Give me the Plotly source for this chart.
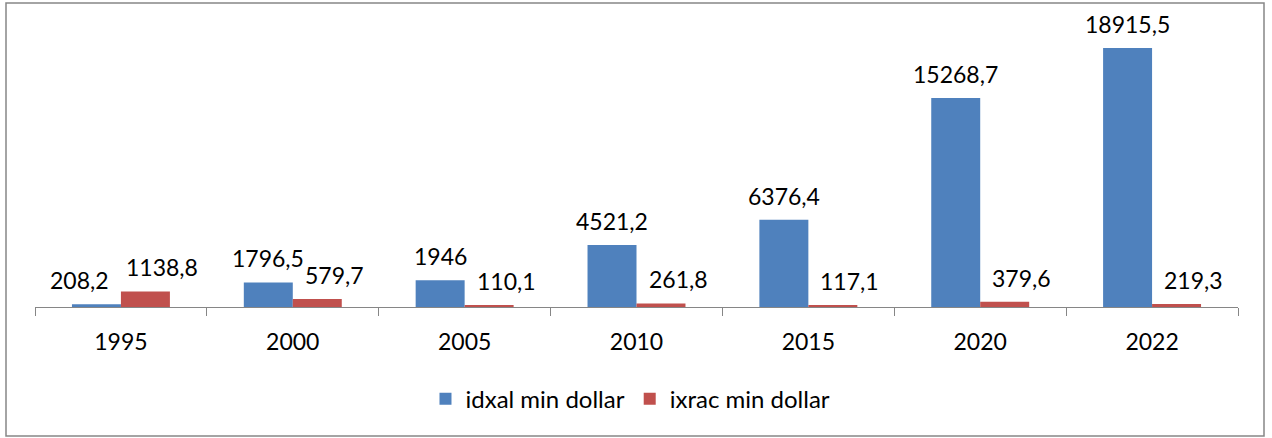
import plotly.graph_objects as go

years = ["1995", "2000", "2005", "2010", "2015", "2020", "2022"]
idxal = [208.2, 1796.5, 1946, 4521.2, 6376.4, 15268.7, 18915.5]
ixrac = [1138.8, 579.7, 110.1, 261.8, 117.1, 379.6, 219.3]
names = ["idxal min dollar", "ixrac min dollar"]
colors = ["#4F81BD", "#C0504D"]

FONT = "Lato"

def fmt(v):
    return f"{v:g}".replace(".", ",")

fig = go.Figure()
for vals, nm, col in zip([idxal, ixrac], names, colors):
    fig.add_trace(go.Bar(x=years, y=vals, name=nm, marker=dict(color=col, line=dict(width=0))))

annotations = []
for s, (vals, shift) in enumerate(zip([idxal, ixrac], [-24.5, 24.5 + 17])):
    for i, v in enumerate(vals):
        dx = shift
        if s == 0 and i == 0:
            dx -= 17  # nudge left to avoid neighbouring label
        annotations.append(dict(x=i, y=v, text=fmt(v), showarrow=False, xanchor="center",
                                yanchor="bottom", xshift=dx, yshift=8,
                                font=dict(family=FONT, size=23, color="black")))

L, R, T, B = 35, 34, 10, 131
W, H = 1272, 438
pw, ph = W - L - R, H - T - B

fig.update_layout(
    width=W, height=H,
    margin=dict(l=L, r=R, t=T, b=B),
    paper_bgcolor="white", plot_bgcolor="white",
    barmode="group", bargap=0.43, bargroupgap=0,
    font=dict(family=FONT, size=23, color="black"),
    annotations=annotations,
    showlegend=True,
    legend=dict(orientation="h", x=0.495, xanchor="center", y=-0.31, yanchor="middle",
                font=dict(family=FONT, size=24, color="black"), itemwidth=30,
                traceorder="normal"),
    xaxis=dict(type="category", categoryorder="array", categoryarray=years,
               range=[-0.5, len(years) - 0.5], autorange=False,
               showline=True, linecolor="#868686", linewidth=1,
               ticks="outside", tickson="boundaries", ticklen=8, tickcolor="#868686",
               ticklabelstandoff=14,
               tickangle=0, showgrid=False, tickfont=dict(family=FONT, size=23, color="black")),
    yaxis=dict(range=[0, 21690], visible=False, showgrid=False, zeroline=False),
    shapes=[dict(type="rect", xref="paper", yref="paper",
                 x0=(6 - L) / pw, x1=(1264 - L) / pw,
                 y0=-(436 - T - ph) / ph, y1=(ph + T - 3) / ph,
                 line=dict(color="#868686", width=1.5), fillcolor="rgba(0,0,0,0)")],
)

fig.write_html("out.html", config={"displayModeBar": False},
               post_script="document.body.style.margin='0';document.body.style.overflow='hidden';")
